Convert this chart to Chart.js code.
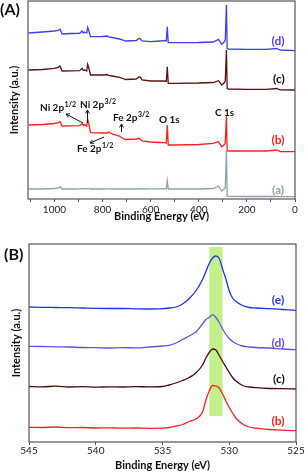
<!DOCTYPE html>
<html>
<head>
<meta charset="utf-8">
<script src="https://cdn.jsdelivr.net/npm/chart.js@4"></script>
<style>
  html, body { margin: 0; padding: 0; background: #fff; }
  canvas { display: block; }
</style>
</head>
<body>
<canvas id="chartSurvey" width="306" height="237"></canvas>
<canvas id="chartO1s" width="306" height="237"></canvas>
<script>
// --- 1. DATOS ---
// Panel A: espectro survey, energía de enlace en eV
const energiaSurvey = [1108,1050,1000,985,977,968,930,895,885,880,875,866,862,858,850,800,780,775,760,730,715,705,660,648,642,636,600,560,545,535,531,527,500,400,340,318,305,295,290,285,282,278,200,120,75,68,60,0];
const surveyA = [10,10,10.5,11,12.3,10,10,10.2,10.5,10.2,10.3,10.2,10.5,10.3,10,10,10.2,10.2,10,10,10,10,10,10.3,10.2,10,10.2,10.2,10.3,10.2,18.3,10,10,10,10.5,13,8,10,11,48,3,2.7,2.5,2.5,2.7,2.5,2.4,2.3];
const surveyB = [74,74.5,75.5,76,77.3,73,73.2,73.3,75.5,73.5,74.5,73,79.7,76,66.3,66,66,67,65,63,60.5,59.5,60,60.7,59.5,58,57,56.5,56.3,56,74,54,54,54.5,55.7,57.3,52.3,54,56,83,48.3,48,48,48,49,48,47.5,47.3];
const surveyC = [129,129.5,130.7,131.5,133,128,128.2,128.3,130.7,128.5,129,128,134.7,132,124,124,124.5,123.5,123,121.7,120.5,119.5,120,122.3,121.5,119,118,118,118,117.5,132.3,115.7,115.7,116,116.5,118.3,114,116,118,149,110.7,110,109.7,109.7,110.5,109.5,109.2,109];
const surveyD = [166,167,168,168.5,169.7,165,165.5,165.7,168,166,167,166,171.7,169,162.3,162.5,163,162,161.5,160,159,158,158.5,160.7,160,158,157.3,158,158.3,158,172.3,156.3,156.3,156.5,157,159.7,154.7,157,159,194,150.7,150,149.7,149.7,150.5,149.5,149,148.3];
const ticksSurvey = [1100, 1000, 900, 800, 700, 600, 500, 400, 300, 200, 100, 0];
const etiquetasSurvey = [1000, 800, 600, 400, 200, 0];

// Panel B: O 1s alta resolución
const energiaO1s = [545,544,543,542,541,540,539,538,537,536,535,534.5,534,533.5,533,532.5,532,531.75,531.5,531.25,531,530.75,530.5,530.25,530,529.75,529.5,529,528.5,528,527,526,525];
const o1sB = [14.7,14.5,15,14.3,14.5,14,14.2,13.8,14,13.7,13.8,14.5,15.8,17.5,20.5,23,30,42,51,56.5,56,54,48,41,34.5,29,24,18,15,13.8,12.5,11.8,11.3];
const o1sC = [55.5,55.2,55.8,55,55.3,54.8,55.2,55,55.3,55.2,55.5,57,59,61.5,64.5,69,77,84,89.5,93,92,86.5,80.5,75,69.5,64.5,61,56.5,55,54.3,53.5,53.3,53];
const o1sD = [95.7,95.5,95.2,95,94.5,94.3,94,94.3,94.2,95,96,96.7,99,102.5,106,110,118,122.5,124.5,127.3,124.5,119.5,113,107.5,103.5,100.5,98.5,96,95,94.5,94,93,92.3];
const o1sE = [135,134.7,134.5,134.3,134,133.7,133.5,133.5,133.2,133,133.3,134,135,138,143.5,151,162.5,170.5,178.5,184,186,183.5,173,163,151,144,140.5,136.5,134.5,134,133.3,132.5,131.7];
const ticksO1s = [545, 540, 535, 530, 525];
const bandaEnergia = [531.5, 530.5];
const bandaIntensidad = [26, 195];

Chart.defaults.font.family = 'Lato, "Open Sans", sans-serif';
Chart.defaults.color = '#222';

function pares(xs, ys) {
    return xs.map((x, i) => ({ x: x, y: ys[i] }));
}

// --- 2. HELPERS DE DIBUJO ---
function texto(ctx, t, x, y, color, size, sup, align) {
    ctx.font = `bold ${size}px Lato`;
    ctx.fillStyle = color;
    ctx.textBaseline = 'middle';
    ctx.textAlign = align || 'left';
    ctx.fillText(t, x, y);
    if (sup) {
        const w = ctx.measureText(t).width;
        ctx.font = `bold ${Math.round(size * 0.7)}px Lato`;
        ctx.textAlign = 'left';
        ctx.fillText(sup, x + w + 0.5, y - size * 0.35);
    }
}

function flecha(ctx, x1, y1, x2, y2) {
    const ang = Math.atan2(y2 - y1, x2 - x1);
    ctx.strokeStyle = '#111';
    ctx.lineWidth = 1;
    ctx.beginPath();
    ctx.moveTo(x1, y1);
    ctx.lineTo(x2, y2);
    ctx.moveTo(x2 - 4 * Math.cos(ang - 0.5), y2 - 4 * Math.sin(ang - 0.5));
    ctx.lineTo(x2, y2);
    ctx.lineTo(x2 - 4 * Math.cos(ang + 0.5), y2 - 4 * Math.sin(ang + 0.5));
    ctx.stroke();
}

const marco = {
    id: 'marco',
    afterDraw(chart) {
        const { ctx, chartArea: a } = chart;
        ctx.save();
        ctx.strokeStyle = '#555';
        ctx.lineWidth = 1.2;
        ctx.strokeRect(a.left, a.top, a.right - a.left, a.bottom - a.top);
        ctx.restore();
    }
};

const anotacionesA = {
    id: 'anotacionesA',
    afterDraw(chart) {
        const ctx = chart.ctx;
        ctx.save();
        texto(ctx, '(A)', 0, 10, '#111', 16);
        texto(ctx, '(d)', 278, 41, '#5a3ee6', 12, null, 'center');
        texto(ctx, '(c)', 279, 79, '#111', 12, null, 'center');
        texto(ctx, '(b)', 278, 140, '#ff2020', 12, null, 'center');
        texto(ctx, '(a)', 278, 190, '#8fa3ab', 12, null, 'center');
        texto(ctx, 'Ni 2p', 40, 108, '#111', 10, '1/2');
        texto(ctx, 'Ni 2p', 80, 105, '#111', 10, '3/2');
        texto(ctx, 'Fe 2p', 113, 118, '#111', 10, '3/2');
        texto(ctx, 'Fe 2p', 77, 149, '#111', 10, '1/2');
        texto(ctx, 'O 1s', 159, 120, '#111', 10);
        texto(ctx, 'C 1s', 215, 113, '#111', 10);
        flecha(ctx, 83, 123, 66, 114);
        flecha(ctx, 87.5, 123, 87.5, 110);
        flecha(ctx, 121.5, 132, 121.5, 124);
        flecha(ctx, 104, 137, 90, 143);
        ctx.restore();
    }
};

const bandaB = {
    id: 'bandaB',
    beforeDatasetsDraw(chart) {
        const { ctx, scales: { x, y } } = chart;
        const x1 = x.getPixelForValue(bandaEnergia[0]);
        const x2 = x.getPixelForValue(bandaEnergia[1]);
        const y1 = y.getPixelForValue(bandaIntensidad[1]);
        const y2 = y.getPixelForValue(bandaIntensidad[0]);
        ctx.save();
        ctx.fillStyle = '#c3f08a';
        ctx.fillRect(Math.min(x1, x2), y1, Math.abs(x2 - x1), y2 - y1);
        ctx.restore();
    }
};

const anotacionesB = {
    id: 'anotacionesB',
    afterDraw(chart) {
        const ctx = chart.ctx;
        ctx.save();
        texto(ctx, '(B)', 4, 18, '#111', 16);
        texto(ctx, '(e)', 278, 63, '#2233ee', 12, null, 'center');
        texto(ctx, '(d)', 278, 106, '#6a4ce8', 12, null, 'center');
        texto(ctx, '(c)', 279, 142, '#111', 12, null, 'center');
        texto(ctx, '(b)', 278, 184, '#ff2020', 12, null, 'center');
        ctx.restore();
    }
};

// --- 3. PANEL A: SURVEY ---
new Chart(document.getElementById('chartSurvey'), {
    type: 'line',
    data: {
        datasets: [
            { data: pares(energiaSurvey, surveyA), borderColor: '#8fa3ab' },
            { data: pares(energiaSurvey, surveyB), borderColor: '#ff1f1f' },
            { data: pares(energiaSurvey, surveyC), borderColor: '#5a1212' },
            { data: pares(energiaSurvey, surveyD), borderColor: '#3f3ff0' }
        ]
    },
    options: {
        responsive: false,
        animation: false,
        layout: { padding: { left: 0, right: 11, top: 1, bottom: 0 } },
        plugins: { legend: { display: false }, tooltip: { enabled: false } },
        elements: { point: { radius: 0 }, line: { borderWidth: 1.3, tension: 0 } },
        scales: {
            x: {
                type: 'linear', reverse: true, min: 0, max: 1110,
                afterFit: s => { s.height = 38; },
                afterBuildTicks: s => { s.ticks = ticksSurvey.map(v => ({ value: v })); },
                border: { display: false },
                grid: { drawOnChartArea: false, tickLength: 3, color: '#555' },
                ticks: {
                    autoSkip: false, maxRotation: 0, padding: 2,
                    font: { size: 10 },
                    callback: v => etiquetasSurvey.includes(v) ? String(v) : ''
                },
                title: { display: true, text: 'Binding Energy (eV)', color: '#111', font: { size: 11, weight: 'bold' }, padding: { top: 0, bottom: 14 } }
            },
            y: {
                min: 0, max: 198,
                afterFit: s => { s.width = 28; },
                border: { display: false },
                grid: { display: false },
                ticks: { display: false },
                title: { display: true, text: 'Intensity (a.u.)', color: '#111', font: { size: 11, weight: 'bold' }, padding: { top: 8, bottom: 0 } }
            }
        }
    },
    plugins: [marco, anotacionesA]
});

// --- 4. PANEL B: O 1s ---
new Chart(document.getElementById('chartO1s'), {
    type: 'line',
    data: {
        datasets: [
            { data: pares(energiaO1s, o1sB), borderColor: '#ff2020' },
            { data: pares(energiaO1s, o1sC), borderColor: '#4a0c0c' },
            { data: pares(energiaO1s, o1sD), borderColor: '#6650e0' },
            { data: pares(energiaO1s, o1sE), borderColor: '#2233ee' }
        ]
    },
    options: {
        responsive: false,
        animation: false,
        layout: { padding: { left: 0, right: 10, top: 7, bottom: 0 } },
        plugins: { legend: { display: false }, tooltip: { enabled: false } },
        elements: { point: { radius: 0 }, line: { borderWidth: 1.3, cubicInterpolationMode: 'monotone' } },
        scales: {
            x: {
                type: 'linear', reverse: true, min: 525, max: 545,
                afterFit: s => { s.height = 32; },
                afterBuildTicks: s => { s.ticks = ticksO1s.map(v => ({ value: v })); },
                border: { display: false },
                grid: { drawOnChartArea: false, tickLength: 3, color: '#555' },
                ticks: {
                    autoSkip: false, maxRotation: 0, padding: 0,
                    font: { size: 10 }
                },
                title: { display: true, text: 'Binding Energy (eV)', color: '#111', font: { size: 11, weight: 'bold' }, padding: { top: 0, bottom: 2 } }
            },
            y: {
                min: 0, max: 198,
                afterFit: s => { s.width = 29; },
                border: { display: false },
                grid: { display: false },
                ticks: { display: false },
                title: { display: true, text: 'Intensity (a.u.)', color: '#111', font: { size: 11, weight: 'bold' }, padding: { top: 10, bottom: 0 } }
            }
        }
    },
    plugins: [bandaB, marco, anotacionesB]
});
</script>
</body>
</html>
